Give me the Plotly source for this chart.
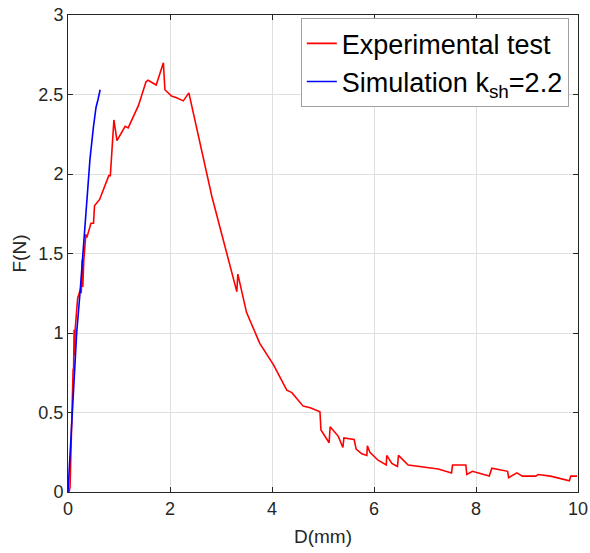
import plotly.graph_objects as go

exp_x = [0.02, 0.04, 0.10, 0.11, 0.12, 0.13, 0.14, 0.19, 0.25, 0.26, 0.28, 0.29, 0.31, 0.35, 0.37,
         0.40, 0.45, 0.50, 0.52, 0.62, 0.80, 0.83, 0.90, 0.96, 1.12, 1.18, 1.38, 1.53, 1.57, 1.73,
         1.87, 1.90, 2.03, 2.13, 2.26, 2.37, 2.82, 3.31, 3.33, 3.50, 3.76, 4.03, 4.29, 4.39, 4.61,
         4.75, 4.94, 4.96, 5.12, 5.14, 5.30, 5.39, 5.41, 5.61, 5.65, 5.76, 5.86, 5.87, 5.92, 6.08,
         6.24, 6.25, 6.35, 6.46, 6.48, 6.67, 7.26, 7.52, 7.54, 7.80, 7.82, 7.93, 8.26, 8.31, 8.62,
         8.64, 8.80, 8.91, 9.17, 9.22, 9.46, 9.83, 9.86, 9.98]
exp_y = [0.00, 0.03, 0.77, 0.78, 1.02, 0.86, 1.02, 1.22, 1.28, 1.25, 1.46, 1.29, 1.46, 1.62, 1.60,
         1.64, 1.69, 1.69, 1.80, 1.84, 1.99, 1.99, 2.34, 2.21, 2.30, 2.29, 2.43, 2.58, 2.59, 2.56,
         2.70, 2.53, 2.49, 2.48, 2.46, 2.51, 1.86, 1.26, 1.37, 1.13, 0.935, 0.80, 0.64, 0.625, 0.54,
         0.53, 0.505, 0.39, 0.31, 0.41, 0.35, 0.28, 0.34, 0.33, 0.27, 0.24, 0.23, 0.29, 0.25, 0.20,
         0.17, 0.23, 0.18, 0.16, 0.23, 0.17, 0.145, 0.12, 0.17, 0.17, 0.11, 0.13, 0.10, 0.15, 0.13,
         0.09, 0.12, 0.10, 0.10, 0.11, 0.10, 0.07, 0.10, 0.10]

sim_x = [0.00, 0.05, 0.10, 0.17, 0.235, 0.30, 0.37, 0.43, 0.50, 0.55, 0.59, 0.63]
sim_y = [0.00, 0.28, 0.55, 1.00, 1.25, 1.55, 1.88, 2.09, 2.30, 2.42, 2.47, 2.53]

x_ticks = [0, 2, 4, 6, 8, 10]
y_ticks = [0, 0.5, 1, 1.5, 2, 2.5, 3]
y_tick_labels = ["0", "0.5", "1", "1.5", "2", "2.5", "3"]

font_family = "Liberation Sans, Arial, sans-serif"
axis_color = "#262626"

fig = go.Figure()
fig.add_trace(go.Scatter(x=exp_x, y=exp_y, mode="lines", name="Experimental test",
                         line=dict(color="#ff0000", width=1.6)))
fig.add_trace(go.Scatter(x=sim_x, y=sim_y, mode="lines", name="Simulation k<sub>sh</sub>=2.2",
                         line=dict(color="#0000ff", width=1.6)))

axis_common = dict(showline=True, linecolor=axis_color, linewidth=1, mirror="ticks",
                   ticks="inside", ticklen=5, tickcolor=axis_color, automargin=False,
                   showgrid=True, gridcolor="#dfdfdf", gridwidth=1, zeroline=False,
                   tickfont=dict(family=font_family, size=18, color=axis_color))

fig.update_layout(
    width=590, height=553,
    margin=dict(l=68, r=12, t=15, b=61),
    plot_bgcolor="white", paper_bgcolor="white",
    font=dict(family=font_family, color=axis_color),
    xaxis=dict(range=[0, 10], tickvals=x_ticks,
               title=dict(text="D(mm)", font=dict(size=19, color=axis_color), standoff=12),
               **axis_common),
    yaxis=dict(range=[0, 3], tickvals=y_ticks, ticktext=y_tick_labels,
               title=dict(text="F(N)", font=dict(size=19, color=axis_color), standoff=6),
               **axis_common),
    legend=dict(x=0.982, y=0.993, xanchor="right", yanchor="top",
                bgcolor="white", bordercolor="#a0a0a0", borderwidth=1,
                font=dict(family=font_family, size=27, color="black"),
                itemwidth=30, tracegroupgap=0),
    showlegend=True,
)

fig.write_html("out.html")
